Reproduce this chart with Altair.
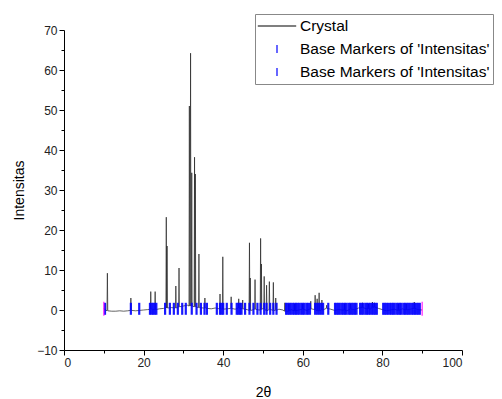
import altair as alt
import pandas as pd

# ---- data ----
peak_x = [10.9, 16.8, 21.8, 22.9, 25.7, 25.9, 28.1, 28.9, 31.5, 31.8, 32.1, 32.8, 33.0, 33.9,
          35.4, 39.2, 39.9, 42.0, 43.9, 44.9, 46.6, 46.8, 48.0, 49.4, 49.6, 50.3, 50.9, 51.6,
          52.6, 53.2, 55.5, 56.5, 58.0, 60.0, 62.0, 63.1, 63.6, 64.1, 64.8, 66.0, 70.5, 72.0,
          75.0, 76.5, 77.5, 78.0, 84.0, 86.0, 88.0]
peak_h = [9.2, 3.0, 4.6, 4.6, 23.2, 16.0, 6.0, 10.5, 51.0, 64.2, 34.3, 38.2, 34.0, 14.0,
          3.0, 4.0, 13.3, 3.3, 2.8, 2.5, 16.8, 8.0, 7.6, 17.9, 11.5, 8.4, 6.2, 7.1,
          6.9, 3.0, 1.8, 1.5, 1.5, 1.5, 2.2, 3.7, 2.8, 4.3, 2.5, 1.2, 1.5, 1.5,
          1.8, 1.5, 2.0, 1.8, 1.5, 1.5, 2.0]

base_x = list(range(10, 91))
base_y = [0.3, -0.2, -0.3, -0.3, -0.2, -0.3, -0.2, -0.1, -0.2, -0.1,
          0.0, 0.1, 0.2, 0.1, 0.3, 0.4, 0.5, 0.6, 0.5, 0.8,
          1.0, 1.2, 1.0, 0.8, 0.6, 0.5, 0.4, 0.3, 0.5, 0.3,
          0.2, 0.3, 0.4, 0.2, 0.5, 0.3, 0.1, -0.1, 0.2, 0.0,
          0.3, -0.2, 0.1, -0.1, 0.2, 0.0, -0.3, 0.1, -0.2, 0.0,
          0.2, -0.1, 0.3, 0.1, -0.2, 0.0, 0.4, 0.2, -0.1, 0.1,
          0.0, -0.2, 0.2, 0.1, 0.5, 0.6, 0.3, 0.2, 0.7, 0.4,
          0.1, -0.2, 0.0, 0.2, -0.1, 0.3, 0.0, 0.2, 0.4, 0.1, 0.0]

marker_x = [10.3, 16.8, 18.9, 21.6, 22.0, 22.4, 22.8, 23.2, 25.4, 26.6, 27.6, 28.6, 29.7,
            30.6, 32.1, 33.3, 34.4, 35.3, 35.9, 38.4, 39.2, 39.6, 40.0, 40.9, 42.1, 43.4,
            43.8, 44.2, 44.6, 45.5, 46.6, 47.6, 48.6, 49.4, 50.3, 50.9, 51.8, 52.6, 53.4,
            55.8, 56.2, 56.6, 57.0, 57.5, 57.9, 58.3, 58.7, 59.1, 59.6, 60.0, 60.4, 60.9,
            61.3, 61.8, 63.1, 63.6, 64.1, 64.6, 65.1, 66.4, 68.1, 68.5, 68.9, 69.3, 69.8,
            70.2, 70.6, 71.0, 71.5, 71.9, 72.3, 72.7, 73.1, 73.5, 74.4, 74.8, 75.2, 75.7,
            76.1, 76.5, 76.9, 77.4, 77.8, 78.2, 78.6, 80.2, 80.6, 81.0, 81.4, 81.9, 82.3,
            82.7, 83.1, 83.6, 84.0, 84.4, 84.8, 85.3, 85.7, 86.1, 86.5, 86.9, 87.4, 87.8,
            88.2, 88.6, 89.0, 89.4]
marker_level = 0.3
end_x = [10, 90]

x_major = [0, 20, 40, 60, 80, 100]
x_minor = [10, 30, 50, 70, 90]
y_major = [-10, 0, 10, 20, 30, 40, 50, 60, 70]
y_minor = [-5, 5, 15, 25, 35, 45, 55, 65]

series = ["Crystal", "Base Markers of 'Intensitas'", "Base Markers of 'Intensitas' "]
series_colors = ["black", "#0000ff", "#0000ff"]
series_shapes = ["M-2.4,0L2.4,0", "M0,-0.5L0,0.5", "M0,-0.5L0,0.5"]

# ---- build tables ----
rows = []
for x, y in zip(base_x, base_y):
    if all(abs(x - p) > 0.15 for p in peak_x):
        rows.append({"x": x, "y": y})
for p, h in zip(peak_x, peak_h):
    b = base_y[min(max(int(round(p)) - 10, 0), len(base_y) - 1)]
    rows.append({"x": p - 0.1, "y": b})
    rows.append({"x": p, "y": h})
    rows.append({"x": p + 0.1, "y": b})
line_df = pd.DataFrame(rows).sort_values("x")
marker_df = pd.DataFrame({"x": marker_x, "y": [marker_level] * len(marker_x)})
end_df = pd.DataFrame({"x": end_x, "y": [marker_level] * len(end_x)})
legend_df = pd.DataFrame({"series": series, "x": [-50] * 3, "y": [0] * 3})

xscale = alt.Scale(domain=[0, 100], nice=False)
yscale = alt.Scale(domain=[-10, 70], nice=False)

x_axis = alt.Axis(values=x_major, title="2θ", orient="bottom", tickSize=5,
                  labelOverlap=False, titlePadding=17)
y_axis = alt.Axis(values=y_major, title="Intensitas", orient="left", tickSize=5,
                  labelOverlap=False, titlePadding=10)
x_minor_axis = alt.Axis(values=x_minor, title=None, orient="bottom", tickSize=3,
                        labels=False, domain=False)
y_minor_axis = alt.Axis(values=y_minor, title=None, orient="left", tickSize=3,
                        labels=False, domain=False)

line = alt.Chart(line_df).mark_line(color="#222222", strokeWidth=0.7, clip=True).encode(
    x=alt.X("x:Q", scale=xscale, axis=x_axis),
    y=alt.Y("y:Q", scale=yscale, axis=y_axis),
)
markers = alt.Chart(marker_df).mark_tick(color="#0000ff", orient="vertical", size=12,
                                          thickness=2.2, opacity=0.9).encode(
    x=alt.X("x:Q", scale=xscale, axis=x_minor_axis),
    y=alt.Y("y:Q", scale=yscale, axis=y_minor_axis))
ends = alt.Chart(end_df).mark_tick(color="#ff00ff", orient="vertical", size=14,
                                    thickness=1.5).encode(
    x=alt.X("x:Q", scale=xscale, axis=None), y=alt.Y("y:Q", scale=yscale, axis=None))

leg = alt.Legend(title=None, orient="none", legendX=191, legendY=-16,
                 symbolSize=256, symbolStrokeWidth=1.2, symbolOffset=10,
                 labelOffset=14, labelFont="Liberation Sans", labelFontSize=15.5,
                 labelColor="black", strokeColor="#888888", fillColor="white",
                 padding=3, rowPadding=5, labelLimit=400)
legend_layer = alt.Chart(legend_df).mark_point(filled=False, opacity=1, clip=True).encode(
    x=alt.X("x:Q", scale=xscale, axis=None), y=alt.Y("y:Q", scale=yscale, axis=None),
    color=alt.Color("series:N", scale=alt.Scale(domain=series, range=series_colors), legend=leg),
    shape=alt.Shape("series:N", scale=alt.Scale(domain=series, range=series_shapes), legend=leg),
)

chart = alt.layer(line, markers, ends, legend_layer).resolve_axis(
    x="independent", y="independent"
).properties(
    width=398, height=320,
    autosize=alt.AutoSizeParams(type="none"),
    padding={"left": 56, "top": 22, "right": 32, "bottom": 48},
).configure_view(stroke=None).configure_axis(
    grid=False, domainColor="black", tickColor="black", labelColor="#222222",
    labelFont="Liberation Sans", labelFontSize=12, titleFont="Liberation Sans",
    titleFontSize=14, titleFontWeight="normal", titleColor="black", labelPadding=2,
)

chart.save("out.html", embed_options={"renderer": "svg", "actions": False})
